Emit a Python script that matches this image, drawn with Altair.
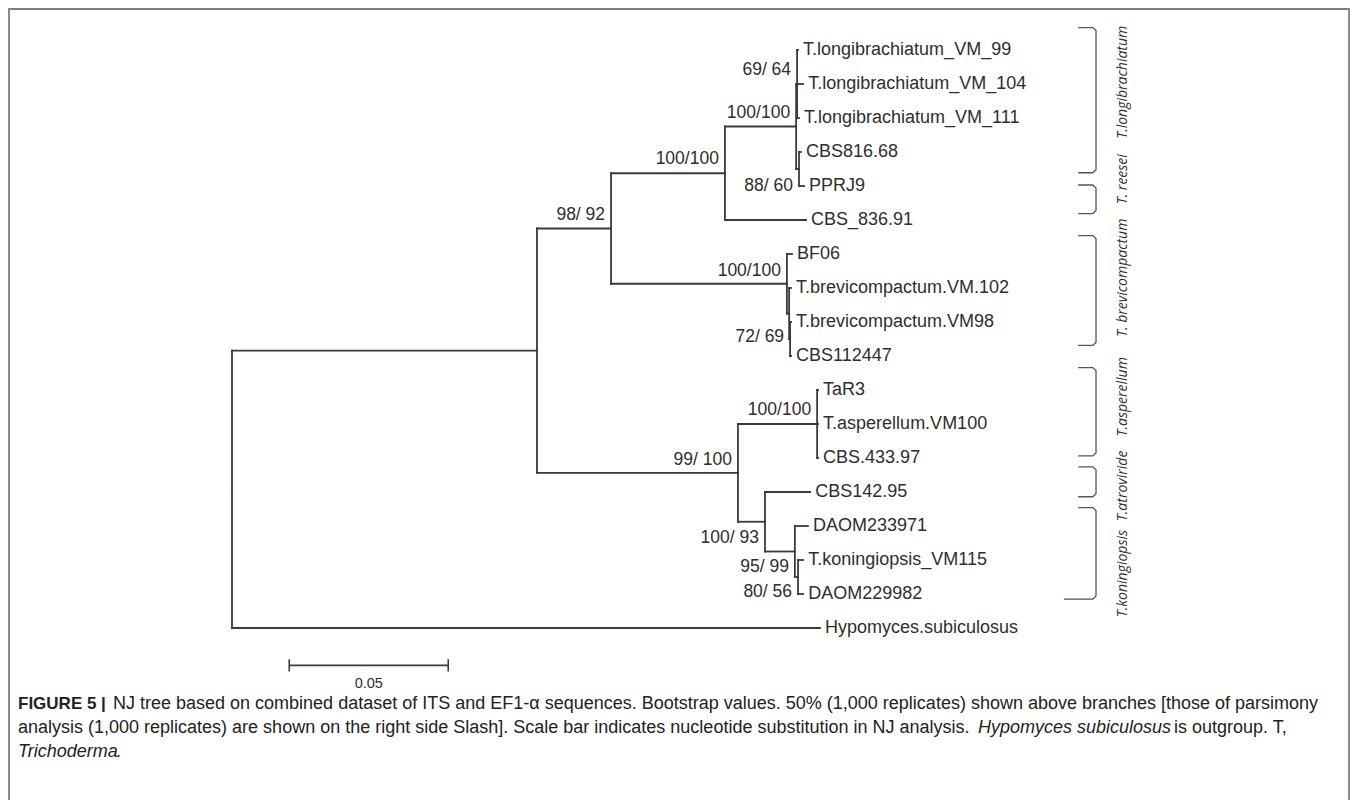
import altair as alt
import pandas as pd

# ---------------- tree data ----------------
node_id = ["root", "A", "B", "D", "E", "F", "VM99", "VM104", "VM111", "G", "CBS816", "PPRJ9",
           "CBS836", "H", "BF06", "I", "VM102", "J", "VM98", "CBS112447",
           "C", "K", "TaR3", "VM100", "CBS433", "L", "CBS142", "M", "DAOM233971", "N",
           "VM115", "DAOM229982", "Hypo"]
node_parent = ["", "root", "A", "B", "D", "E", "F", "F", "F", "E", "G", "G",
               "D", "B", "H", "H", "I", "I", "J", "J",
               "A", "C", "K", "K", "K", "C", "L", "L", "M", "M",
               "N", "N", "root"]
# distance from root (substitutions per site)
node_dist = [0.0, 0.0959, 0.1192, 0.1550, 0.1774, 0.1777, 0.1780, 0.1796, 0.1783, 0.1783, 0.1789, 0.1799,
             0.1805, 0.1745, 0.1761, 0.1752, 0.1758, 0.1755, 0.1758, 0.1758,
             0.1591, 0.1840, 0.1843, 0.1843, 0.1843, 0.1676, 0.1818, 0.1770, 0.1811, 0.1780,
             0.1796, 0.1796, 0.1849]
# vertical row position (tips are 0..17)
node_row = [12.92, 8.84, 5.25, 3.625, 2.25, 1.0, 0, 1, 2, 3.5, 3, 4,
            5, 6.875, 6, 7.75, 7, 8.5, 8, 9,
            12.44, 11, 10, 11, 12, 13.875, 13, 14.75, 14, 15.5,
            15, 16, 17]

tip_ids = ["VM99", "VM104", "VM111", "CBS816", "PPRJ9", "CBS836", "BF06", "VM102", "VM98",
           "CBS112447", "TaR3", "VM100", "CBS433", "CBS142", "DAOM233971", "VM115",
           "DAOM229982", "Hypo"]
tip_names = ["T.longibrachiatum_VM_99", "T.longibrachiatum_VM_104", "T.longibrachiatum_VM_111",
             "CBS816.68", "PPRJ9", "CBS_836.91", "BF06", "T.brevicompactum.VM.102",
             "T.brevicompactum.VM98", "CBS112447", "TaR3", "T.asperellum.VM100", "CBS.433.97",
             "CBS142.95", "DAOM233971", "T.koningiopsis_VM115", "DAOM229982",
             "Hypomyces.subiculosus"]

boot_nodes = ["B", "D", "E", "F", "G", "H", "J", "K", "C", "L", "M", "N"]
boot_text = ["98/ 92", "100/100", "100/100", "69/ 64", "88/ 60", "100/100", "72/ 69",
             "100/100", "99/ 100", "100/ 93", "95/ 99", "80/ 56"]
boot_row = [4.85, 3.22, 1.85, 0.6, 4.0, 6.5, 8.45, 10.6, 12.05, 14.35, 15.2, 15.95]

# clade brackets (rows) and names
clade_names = ["T.longibrachiatum", "T. reesei", "T. brevicompactum", "T.asperellum",
               "T.atroviride", "T.koningiopsis"]
clade_top = [-0.66, 3.97, 5.46, 9.34, 12.26, 13.46]
clade_bottom = [3.61, 4.81, 8.69, 11.94, 13.14, 16.15]
clade_label_row = [0.95, 3.8, 6.70, 10.2, 12.82, 15.4]

scale_bar = [0.018, 0.068]   # 0.05 substitutions
scale_label = "0.05"

# ---------------- derived tables ----------------
pos = {n: (d, r) for n, d, r in zip(node_id, node_dist, node_row)}
segs = []
for n, p in zip(node_id, node_parent):
    if not p:
        continue
    px, py = pos[p]
    nx, ny = pos[n]
    segs.append({"x": px, "x2": nx, "y": ny, "y2": ny})
    segs.append({"x": px, "x2": px, "y": py, "y2": ny})
seg_df = pd.DataFrame(segs)

tips_df = pd.DataFrame({"name": tip_names,
                        "x": [pos[t][0] for t in tip_ids],
                        "y": [pos[t][1] for t in tip_ids]})
boot_df = pd.DataFrame({"text": boot_text,
                        "x": [pos[b][0] for b in boot_nodes],
                        "y": boot_row})

bx0, bx1, bx0_last = 0.2661, 0.2717, 0.2616
rx, ry = 0.0010, 0.09
br = []
for i, (t, b) in enumerate(zip(clade_top, clade_bottom)):
    xb = bx0_last if i == len(clade_top) - 1 else bx0
    pts = [(bx0, t), (bx1 - rx, t), (bx1, t + ry), (bx1, b - ry), (bx1 - rx, b), (xb, b)]
    for k, (x, y) in enumerate(pts):
        br.append({"id": i, "k": k, "x": x, "y": y})
br_df = pd.DataFrame(br)
clade_df = pd.DataFrame({"name": clade_names, "y": clade_label_row, "x": [0.2802] * 6})

bar_df = pd.DataFrame({"x": [scale_bar[0]], "x2": [scale_bar[1]], "y": [18.1]})
bar_ticks = pd.DataFrame({"x": scale_bar, "y": [17.92, 17.92], "y2": [18.28, 18.28]})
bar_lab = pd.DataFrame({"x": [(scale_bar[0] + scale_bar[1]) / 2], "y": [18.65], "t": [scale_label]})

# ---------------- scales ----------------
W, H = 1342, 792
xs = alt.Scale(domain=[-0.07044, 0.35157], nice=False, zero=False)
ys = alt.Scale(domain=[-1.23529, 22.0588], nice=False, zero=False, reverse=True)
X = lambda f="x": alt.X(f"{f}:Q", scale=xs, axis=None)
Y = lambda f="y": alt.Y(f"{f}:Q", scale=ys, axis=None)

LINE = "#3a3a3a"
TXT = "#2e2e2e"
FONT = "Liberation Sans"

branches = alt.Chart(seg_df).mark_rule(color=LINE, strokeWidth=1.8, strokeCap="square").encode(
    x=X(), x2="x2", y=Y(), y2="y2")
tips = alt.Chart(tips_df).mark_text(align="left", baseline="middle", dx=5, fontSize=18,
                                    font=FONT, color=TXT).encode(x=X(), y=Y(), text="name:N")
boots = alt.Chart(boot_df).mark_text(align="right", baseline="middle", dx=-6, fontSize=17.5,
                                     font=FONT, color=TXT).encode(x=X(), y=Y(), text="text:N")
brackets = alt.Chart(br_df).mark_line(color="#555555", strokeWidth=1.3).encode(
    x=X(), y=Y(), detail="id:N", order="k:Q")
clades = alt.Chart(clade_df).mark_text(angle=270, align="center", baseline="middle", fontSize=14,
                                       fontStyle="italic", font="Open Sans", color=TXT).encode(
    x=X(), y=Y(), text="name:N")
bar = alt.Chart(bar_df).mark_rule(color=LINE, strokeWidth=1.8).encode(x=X(), x2="x2", y=Y())
barticks = alt.Chart(bar_ticks).mark_rule(color=LINE, strokeWidth=1.6).encode(x=X(), y=Y(), y2="y2")
barlab = alt.Chart(bar_lab).mark_text(fontSize=14.5, font=FONT, color=TXT, baseline="middle").encode(
    x=X(), y=Y(), text="t:N")

# ---------------- caption & frame ----------------
one = pd.DataFrame({"a": [0]})
CAP = "#222222"
def cap(text, x, y, weight="normal", style="normal", size=18):
    return alt.Chart(one).mark_text(align="left", baseline="middle", fontSize=size, font=FONT,
                                    color=CAP, fontWeight=weight, fontStyle=style).encode(
        x=alt.value(x), y=alt.value(y), text=alt.value(text))

L1, L2, L3 = 696, 720, 744
caption = [
    cap("FIGURE 5 |", 10, L1, weight="bold", size=17),
    cap("NJ tree based on combined dataset of ITS and EF1-\u03b1 sequences. Bootstrap values. 50% (1,000 replicates) shown above branches [those of parsimony", 105, L1),
    cap("analysis (1,000 replicates) are shown on the right side Slash]. Scale bar indicates nucleotide substitution in NJ analysis.", 10, L2),
    cap("Hypomyces subiculosus", 970, L2, style="italic"),
    cap("is outgroup. T,", 1166, L2),
    cap("Trichoderma", 10, L3, style="italic"),
    cap(".", 108, L3),
]

frame_top = alt.Chart(one).mark_rule(color="#505050", strokeWidth=1.6).encode(
    x=alt.value(0), x2=alt.value(W), y=alt.value(1))
frame_left = alt.Chart(one).mark_rule(color="#8a8a8a", strokeWidth=2).encode(
    x=alt.value(1), y=alt.value(0), y2=alt.value(H))
frame_right = alt.Chart(one).mark_rule(color="#8a8a8a", strokeWidth=2).encode(
    x=alt.value(W - 1), y=alt.value(0), y2=alt.value(H))

chart = alt.layer(
    branches, tips, boots, brackets, clades, bar, barticks, barlab,
    *caption, frame_top, frame_left, frame_right
).properties(
    width=W, height=H, padding=0, autosize=alt.AutoSizeParams(type="none"), background="white"
).configure_view(strokeWidth=0)

chart.save("out.html", embed_options={"renderer": "svg", "actions": False})
